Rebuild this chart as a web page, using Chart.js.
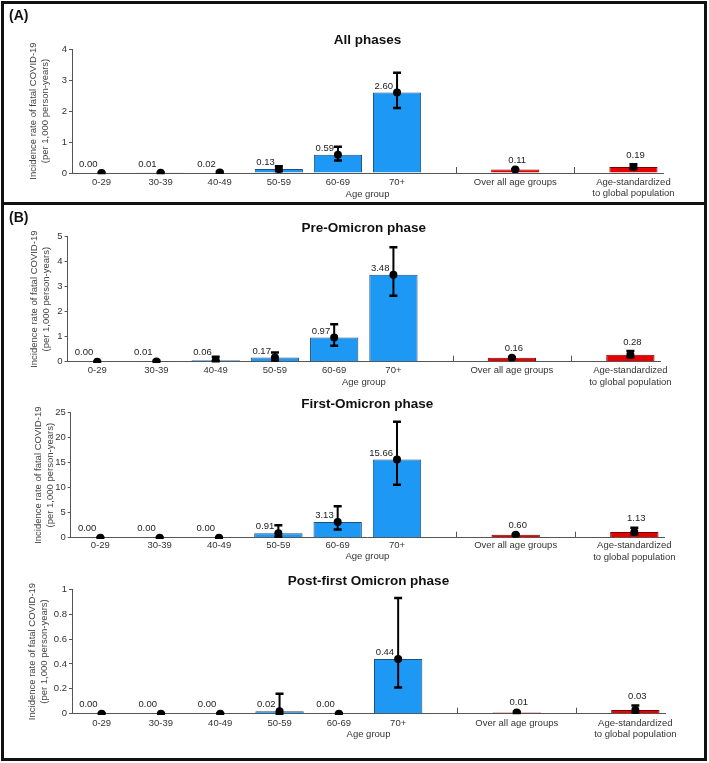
<!DOCTYPE html>
<html>
<head>
<meta charset="utf-8">
<script src="https://cdn.jsdelivr.net/npm/chart.js@4.4.1/dist/chart.umd.min.js"></script>
<style>
  body { margin: 0; background: #fff; font-family: 'Liberation Sans', Arial, sans-serif; }
  #page { position: relative; width: 709px; height: 763px; overflow: hidden; background: #fff; }
  canvas { position: absolute; left: 0; }
  .box { position: absolute; border: 3px solid #111; box-sizing: border-box; pointer-events: none; }
  .tag { position: absolute; left: 9px; font-weight: bold; font-size: 14px; color: #111; }
</style>
</head>
<body>
<div id="page">
  <canvas id="chartA"></canvas>
  <canvas id="chartPre"></canvas>
  <canvas id="chartFirst"></canvas>
  <canvas id="chartPost"></canvas>
  <div class="box" style="left:1px;top:1px;width:706px;height:204px"></div>
  <div class="box" style="left:1px;top:202px;width:706px;height:559px"></div>
  <div class="tag" style="top:7px">(A)</div>
  <div class="tag" style="top:209px">(B)</div>
</div>
<script>
// 카테고리 (빈 칸은 구분선 자리)
const categories = [
  '0-29', '30-39', '40-49', '50-59', '60-69', '70+',
  '', 'Over all age groups', '', ['Age-standardized', 'to global population'],
];
const summaryIdx = [7, 9];

// (A) All phases
const allValues = [0.00, 0.01, 0.02, 0.13, 0.59, 2.60, null, 0.11, null, 0.19];
const allLow = [0, 0.00, 0.01, 0.06, 0.40, 2.10, null, 0.10, null, 0.13];
const allHigh = [0.01, 0.02, 0.04, 0.22, 0.85, 3.23, null, 0.12, null, 0.28];

// (B) Pre-Omicron phase
const preValues = [0.00, 0.01, 0.06, 0.17, 0.97, 3.48, null, 0.16, null, 0.28];
const preLow = [0, 0.00, 0.02, 0.05, 0.64, 2.64, null, 0.14, null, 0.18];
const preHigh = [0.01, 0.04, 0.20, 0.37, 1.50, 4.58, null, 0.18, null, 0.43];

// (B) First-Omicron phase
const firstValues = [0.00, 0.00, 0.00, 0.91, 3.13, 15.66, null, 0.60, null, 1.13];
const firstLow = [0, 0, 0, 0.20, 1.65, 10.60, null, 0.50, null, 0.68];
const firstHigh = [0.03, 0.03, 0.05, 2.50, 6.30, 23.20, null, 0.70, null, 2.00];

// (B) Post-first Omicron phase
const postValues = [0.00, 0.00, 0.00, 0.02, 0.00, 0.44, null, 0.01, null, 0.03];
const postLow = [0, 0, 0, 0.00, 0, 0.21, null, 0.005, null, 0.01];
const postHigh = [0.004, 0.004, 0.004, 0.16, 0.004, 0.93, null, 0.015, null, 0.065];

const yTitle = ['Incidence rate of fatal COVID-19', '(per 1,000 person-years)'];

const FONT = "'Liberation Sans', Arial, sans-serif";
const FS = 9.5;
const LH = FS * 1.2;
const TITLE_LH = 13.5 * 1.2;
const W = 709;

Chart.defaults.font.family = FONT;
Chart.defaults.font.size = FS;
Chart.defaults.color = '#333';

const panels = [
  { id: 'chartA', title: 'All phases', values: allValues, low: allLow, high: allHigh, yMax: 4, yStep: 1,
    geo: { ty: 40, top: 49, bottom: 173, left: 72, right: 663, tick: 182.3, xTitle: 194.3, yTitle: 33 } },
  { id: 'chartPre', title: 'Pre-Omicron phase', values: preValues, low: preLow, high: preHigh, yMax: 5, yStep: 1,
    geo: { ty: 228, top: 236.7, bottom: 361.7, left: 67.6, right: 660, tick: 370.7, xTitle: 382.5, yTitle: 34 } },
  { id: 'chartFirst', title: 'First-Omicron phase', values: firstValues, low: firstLow, high: firstHigh, yMax: 25, yStep: 5,
    geo: { ty: 404, top: 412.7, bottom: 537.7, left: 70.7, right: 664, tick: 545.7, xTitle: 556.7, yTitle: 38 } },
  { id: 'chartPost', title: 'Post-first Omicron phase', values: postValues, low: postLow, high: postHigh, yMax: 1, yStep: 0.2,
    geo: { ty: 581, top: 589.3, bottom: 713.7, left: 72, right: 665, tick: 723, xTitle: 734, yTitle: 32 } },
];

// 에러바 + 값 라벨 + 구분 눈금
function makeOverlay(values, low, high) {
  return {
    id: 'overlay',
    afterDatasetsDraw(chart) {
      const { ctx, scales: { x, y } } = chart;
      const bars = chart.getDatasetMeta(0).data;
      const base = y.getPixelForValue(0);
      ctx.save();

      // 구분 눈금
      ctx.strokeStyle = '#555';
      ctx.lineWidth = 1;
      categories.forEach((c, i) => {
        if (c !== '') return;
        const px = Math.round(x.getPixelForValue(i)) + 0.5;
        ctx.beginPath();
        ctx.moveTo(px, base);
        ctx.lineTo(px, base - 6);
        ctx.stroke();
      });

      // 에러바
      ctx.strokeStyle = '#000';
      low.forEach((lo, i) => {
        if (lo === null) return;
        const px = x.getPixelForValue(i);
        const yLo = y.getPixelForValue(lo);
        const yHi = y.getPixelForValue(high[i]);
        ctx.lineWidth = 2;
        ctx.beginPath();
        ctx.moveTo(px, yLo);
        ctx.lineTo(px, yHi);
        ctx.stroke();
        ctx.lineWidth = 2.5;
        ctx.beginPath();
        ctx.moveTo(px - 4, yLo);
        ctx.lineTo(px + 4, yLo);
        ctx.moveTo(px - 4, yHi);
        ctx.lineTo(px + 4, yHi);
        ctx.stroke();
      });

      // 값 라벨
      ctx.font = `${FS}px ${FONT}`;
      ctx.fillStyle = '#222';
      ctx.textBaseline = 'middle';
      values.forEach((v, i) => {
        if (v === null) return;
        const px = x.getPixelForValue(i);
        const text = v.toFixed(2);
        if (summaryIdx.includes(i)) {
          ctx.textAlign = 'center';
          ctx.fillText(text, px + 2, y.getPixelForValue(high[i]) - 9);
        } else {
          ctx.textAlign = 'right';
          const top = bars[i].y;
          ctx.fillText(text, px - 4, Math.min(top - 6.5, base - 9));
        }
      });
      ctx.restore();
    },
  };
}

function buildChart(p) {
  const g = p.geo;
  const ct = Math.round(g.ty - 36);
  const ch = Math.round(g.bottom + 31 - ct);
  const canvas = document.getElementById(p.id);
  canvas.width = W;
  canvas.height = ch;
  canvas.style.top = ct + 'px';

  const xHeight = ch - (g.bottom - ct);
  const barFill = categories.map((c, i) => (summaryIdx.includes(i) ? '#e60000' : '#1e98f5'));
  const barBorder = categories.map((c, i) => (summaryIdx.includes(i) ? '#7a0000' : '#1f4f7e'));

  const config = {
    type: 'bar',
    data: {
      labels: categories,
      datasets: [
        {
          data: p.values,
          backgroundColor: barFill,
          borderColor: barBorder,
          borderWidth: 1,
          barPercentage: 0.815,
          categoryPercentage: 1,
          order: 2,
        },
        {
          type: 'line',
          data: p.values,
          showLine: false,
          pointRadius: 4,
          pointBackgroundColor: '#000',
          pointBorderColor: '#000',
          pointBorderWidth: 0,
          order: 1,
        },
      ],
    },
    options: {
      responsive: false,
      animation: false,
      layout: { padding: { left: 0, right: W - g.right, top: 0, bottom: 0 } },
      plugins: {
        legend: { display: false },
        tooltip: { enabled: false },
        title: {
          display: true,
          text: p.title,
          fullSize: false,
          color: '#111',
          font: { size: 13.5, weight: 'bold', lineHeight: 1.2 },
          padding: { top: g.ty - ct - TITLE_LH / 2, bottom: g.top - g.ty - TITLE_LH / 2 },
        },
      },
      scales: {
        x: {
          grid: { display: false, drawTicks: false },
          border: { display: true, color: '#555', width: 1 },
          ticks: {
            autoSkip: false,
            maxRotation: 0,
            minRotation: 0,
            padding: g.tick - g.bottom - LH / 2,
            color: '#333',
          },
          title: {
            display: true,
            text: 'Age group',
            color: '#333',
            font: { size: FS, lineHeight: 1.2 },
            padding: { top: 0, bottom: ch - (g.xTitle - ct) - LH / 2 },
          },
          afterFit: (scale) => { scale.height = xHeight; },
        },
        y: {
          min: 0,
          max: p.yMax,
          ticks: {
            stepSize: p.yStep,
            padding: 2,
            color: '#333',
            callback: (v) => String(Number(v.toFixed(2))),
          },
          grid: { drawOnChartArea: false, drawTicks: true, tickLength: 3, color: '#555' },
          border: { display: true, color: '#555', width: 1 },
          title: {
            display: true,
            text: yTitle,
            color: '#444',
            font: { size: FS, lineHeight: 1.35 },
            padding: { top: g.yTitle - (FS * 1.35) / 2, bottom: 0 },
          },
          afterFit: (scale) => { scale.width = g.left; },
        },
      },
    },
    plugins: [makeOverlay(p.values, p.low, p.high)],
  };

  new Chart(canvas.getContext('2d'), config);
}

panels.forEach(buildChart);
</script>
</body>
</html>
